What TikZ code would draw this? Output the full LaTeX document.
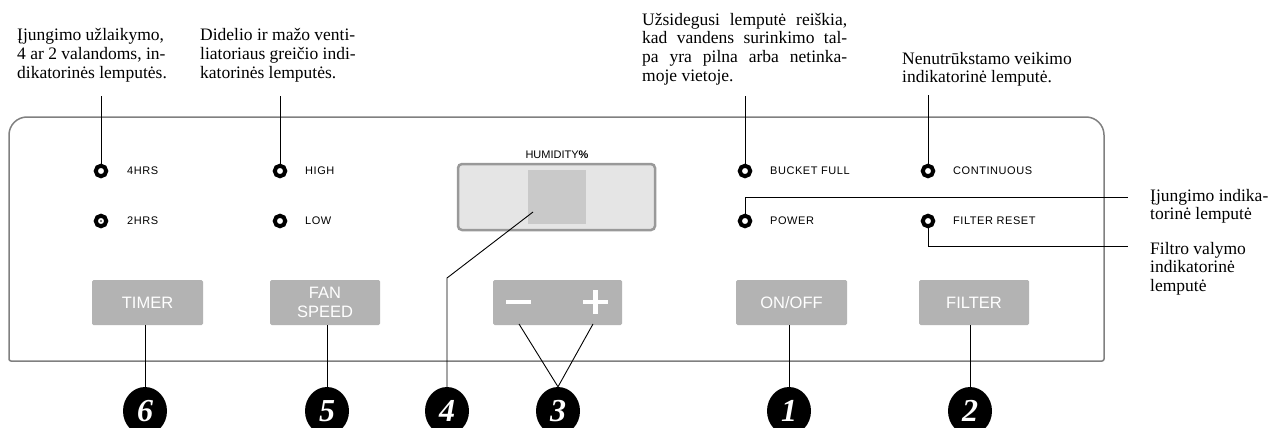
\documentclass[tikz,border=0pt]{standalone}
\usepackage{fontspec}
\setmainfont{Liberation Serif}
\setsansfont{Liberation Sans}
\newfontfamily\panelfont[LetterSpace=5]{Liberation Sans}
\usetikzlibrary{shapes.geometric}

\definecolor{btngray}{RGB}{179,179,179}
\definecolor{panelgray}{RGB}{128,128,128}
\definecolor{dispfill}{RGB}{229,229,229}
\definecolor{dispedge}{RGB}{153,153,153}
\definecolor{dispwin}{RGB}{201,201,201}

\tikzset{
  panel/.style={draw=panelgray, line width=1.5},
  led/.style={circle, draw=black, line width=4, fill=white, minimum size=10.5, inner sep=0},
  ledlabel/.style={anchor=west, inner sep=0, font=\panelfont\fontsize{11}{11}\selectfont},
  btn/.style={rectangle, rounded corners=1.5, fill=btngray, minimum width=111, minimum height=45, inner sep=0,
    text=white, align=center, font=\sffamily\fontsize{16.5}{19}\selectfont},
  badge/.style={ellipse, fill=black, minimum width=44, minimum height=48, inner sep=0,
    text=white, font=\bfseries\itshape\fontsize{32}{32}\selectfont},
  note/.style={anchor=north west, inner sep=0, align=left, font=\fontsize{17.5}{18.6}\selectfont},
  leader/.style={draw=black, line width=0.9},
}

\begin{document}
\begin{tikzpicture}[x=1pt,y=1pt,yscale=-1]
\useasboundingbox (0,0) rectangle (1271,428);

% front panel
\draw [panel] (9,240) [rounded corners=18] -- (9,117) -- (1104,117) -- (1104,200) [rounded corners=2] -- (1104,361) -- (9,361) -- cycle;

% indicator lamps
\node [led] (l4hrs) at (101,171) {};
\node [led] (l2hrs) at (101,221) {};
\node [led] (lhigh) at (280,171) {};
\node [led] (llow) at (280,221) {};
\node [led] (lbucket) at (745,171) {};
\node [led] (lpower) at (745,221) {};
\node [led] (lcont) at (928,171) {};
\node [led] (lfilter) at (928,221) {};
\fill (l2hrs) circle (0.8);

% lamp labels
\node [ledlabel] (t4hrs) at (127,171) {4HRS};
\node [ledlabel] (t2hrs) at (127,221) {2HRS};
\node [ledlabel] (thigh) at (305,171) {HIGH};
\node [ledlabel] (tlow) at (305,221) {LOW};
\node [ledlabel] (tbucket) at (770,171) {BUCKET FULL};
\node [ledlabel] (tpower) at (770,221) {POWER};
\node [ledlabel] (tcont) at (953,171) {CONTINUOUS};
\node [ledlabel] (tfilter) at (953,221) {FILTER RESET};

% humidity display
\node [inner sep=0, font=\sffamily\fontsize{11}{11}\selectfont] (humlbl) at (557,155) {HUMIDITY\textbf{\%}};
\node [draw=dispedge, line width=2.5, fill=dispfill, rounded corners=4, minimum width=197, minimum height=66, inner sep=0] (disp) at (556.5,197) {};
\node [fill=dispwin, minimum width=58, minimum height=54, inner sep=0] (win) at (557,197) {};

% buttons
\node [btn] (timer) at (147.5,302.5) {TIMER};
\node [btn, minimum width=110] (fan) at (325,302.5) {FAN\\SPEED};
\node [btn, minimum width=129] (pm) at (557.5,302.5) {};
\node [btn] (onoff) at (791.5,302.5) {ON/OFF};
\node [btn, minimum width=110] (filter) at (974,302.5) {FILTER};
\draw [white, line width=4.5] (506,302) -- (531,302);
\draw [white, line width=4.5] (583,302) -- (608,302) (595.5,290) -- (595.5,314);

% numbered badges
\node [badge] (b6) at (145,411) {6};
\node [badge] (b5) at (327,411) {5};
\node [badge] (b4) at (447,411) {4};
\node [badge] (b3) at (558,411) {3};
\node [badge] (b1) at (789,411) {1};
\node [badge] (b2) at (970,411) {2};

% leader ends
\coordinate (top4hrs) at (101,96);
\coordinate (tophigh) at (280,96);
\coordinate (topbucket) at (745,96);
\coordinate (topcont) at (928,95);
\coordinate (pwrend) at (1128,197);
\coordinate (filtend) at (1128,246);
\coordinate (humtip) at (533,212);
\coordinate (humbend) at (447,278);
\coordinate (minus) at (519,324);
\coordinate (plus) at (593,324);

% leaders
\draw [leader] (l4hrs.north) -- (top4hrs);
\draw [leader] (lhigh.north) -- (tophigh);
\draw [leader] (lbucket.north) -- (topbucket);
\draw [leader] (lcont.north) -- (topcont);
\draw [leader] (lpower.north) |- (pwrend);
\draw [leader] (lfilter.south) |- (filtend);
\draw [leader] (humtip) -- (humbend) -- (b4.north);
\draw [leader] (minus) -- (b3.north) -- (plus);
\draw [leader] (b6.north) -- (b6.north |- timer.south);
\draw [leader] (b5.north) -- (b5.north |- fan.south);
\draw [leader] (b1.north) -- (b1.north |- onoff.south);
\draw [leader] (b2.north) -- (b2.north |- filter.south);

% notes
\node [note] (n4hrs) at (17,28.5) {Įjungimo užlaikymo,\\4 ar 2 valandoms, in-\\dikatorinės lemputės.};
\node [note] (nfan) at (200,28.5) {Didelio ir mažo venti-\\liatoriaus greičio indi-\\katorinės lemputės.};
\node [note] (nbucket) at (642,13) {\makebox[205pt][s]{Užsidegusi lemputė reiškia,}\\\makebox[205pt][s]{kad vandens surinkimo tal-}\\\makebox[205pt][s]{pa yra pilna arba netinka-}\\moje vietoje.};
\node [note] (ncont) at (902,52) {Nenutrūkstamo veikimo\\indikatorinė lemputė.};
\node [note] (npower) at (1150,189) {Įjungimo indika-\\torinė lemputė};
\node [note] (nfilter) at (1150,242) {Filtro valymo\\indikatorinė\\lemputė};

\end{tikzpicture}
\end{document}
